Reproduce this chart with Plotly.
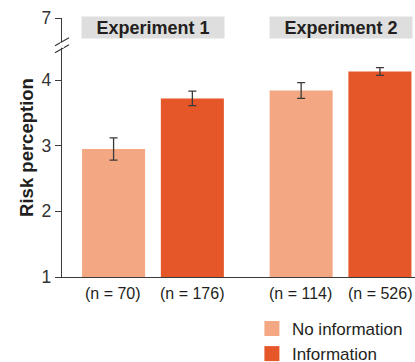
import plotly.graph_objects as go

# ---- data ----
experiments = ["Experiment 1", "Experiment 2"]
conditions = ["No information", "Information"]
risk_no_info = [2.95, 3.84]
risk_info = [3.72, 4.13]
err_no_info = [0.17, 0.12]
err_info = [0.11, 0.06]
n_no_info = ["(n = 70)", "(n = 114)"]
n_info = ["(n = 176)", "(n = 526)"]
ytick_vals = [1, 2, 3, 4]
ytick_text = ["1", "2", "3", "4"]
break_label = "7"

# ---- style ----
LIGHT = "#f3a883"
DARK = "#e55628"
TXT = "#231f20"
FONT = "Liberation Sans, Arial, sans-serif"
TOP_POS = 4.94      # where the broken-axis "7" tick sits
BREAK_POS = 4.53    # where the break mark sits

fig = go.Figure()
series = [(risk_no_info, err_no_info, LIGHT, conditions[0]),
          (risk_info, err_info, DARK, conditions[1])]
for vals, errs, col, name in series:
    fig.add_trace(go.Bar(
        x=experiments, y=vals, name=name, marker=dict(color=col, line=dict(width=0)),
        error_y=dict(type="data", array=errs, color="#3a3a3a", thickness=1.3, width=4),
        showlegend=False,
    ))
    fig.add_trace(go.Scatter(
        x=[None], y=[None], mode="markers", name=name,
        marker=dict(symbol="square", size=15, color=col, line=dict(width=0)),
    ))

# n labels under each bar
for i, exp in enumerate(experiments):
    for lbl, shift in ((n_no_info[i], -40), (n_info[i], 39)):
        fig.add_annotation(x=exp, xref="x", y=0, yref="paper", yshift=-16,
                           xshift=shift, text=lbl, showarrow=False,
                           yanchor="middle", font=dict(size=16, color=TXT, family=FONT))
    # experiment header boxes
    fig.add_annotation(x=exp, xref="x", y=0.963, yref="paper", text="<b>%s</b>" % exp,
                       showarrow=False, yanchor="middle", xanchor="center",
                       width=142, height=21, bgcolor="#dedede", borderpad=0,
                       font=dict(size=18, color=TXT, family=FONT))

# axis break mark
for dy in (-3.5, 3.5):
    fig.add_shape(type="line", xref="paper", yref="y", xsizemode="pixel", ysizemode="pixel",
                  xanchor=0, yanchor=BREAK_POS, x0=-7, x1=7, y0=dy - 4, y1=dy + 4,
                  line=dict(color="#3a3a3a", width=1.3))
fig.add_shape(type="rect", xref="paper", yref="y", xsizemode="pixel", ysizemode="pixel",
              xanchor=0, yanchor=BREAK_POS, x0=-2, x1=2, y0=-2.5, y1=2.5,
              fillcolor="white", line=dict(width=0), layer="above")

fig.update_layout(
    width=415, height=362,
    margin=dict(l=62, r=0, t=18, b=85, autoexpand=False),
    paper_bgcolor="white", plot_bgcolor="white",
    barmode="group", bargap=0.16, bargroupgap=0.2,
    font=dict(family=FONT, color=TXT, size=17),
    showlegend=True,
    legend=dict(x=0.607, y=0.141, xref="container", yref="container",
                xanchor="left", yanchor="top", orientation="v",
                font=dict(size=17, color=TXT), bgcolor="rgba(0,0,0,0)",
                tracegroupgap=0, itemsizing="trace"),
    xaxis=dict(range=[-0.485, 1.397], showticklabels=False, ticks="",
               showline=True, linecolor="#3a3a3a", linewidth=1.3, showgrid=False,
               zeroline=False, fixedrange=True, automargin=False),
    yaxis=dict(range=[1, 4.945], tickvals=ytick_vals + [TOP_POS],
               ticktext=ytick_text + [break_label], ticks="outside", ticklen=6,
               tickcolor="#3a3a3a", tickwidth=1.3, automargin=False,
               showline=True, linecolor="#3a3a3a", linewidth=1.3, showgrid=False,
               zeroline=False, tickfont=dict(size=17.5, color="#333333"),
               title=dict(text="<b>Risk perception</b>", font=dict(size=18.5, color=TXT),
                          standoff=3)),
)

fig.write_html("out.html", config={"displayModeBar": False},
               post_script="document.body.style.margin='0';document.body.style.overflow='hidden';")
